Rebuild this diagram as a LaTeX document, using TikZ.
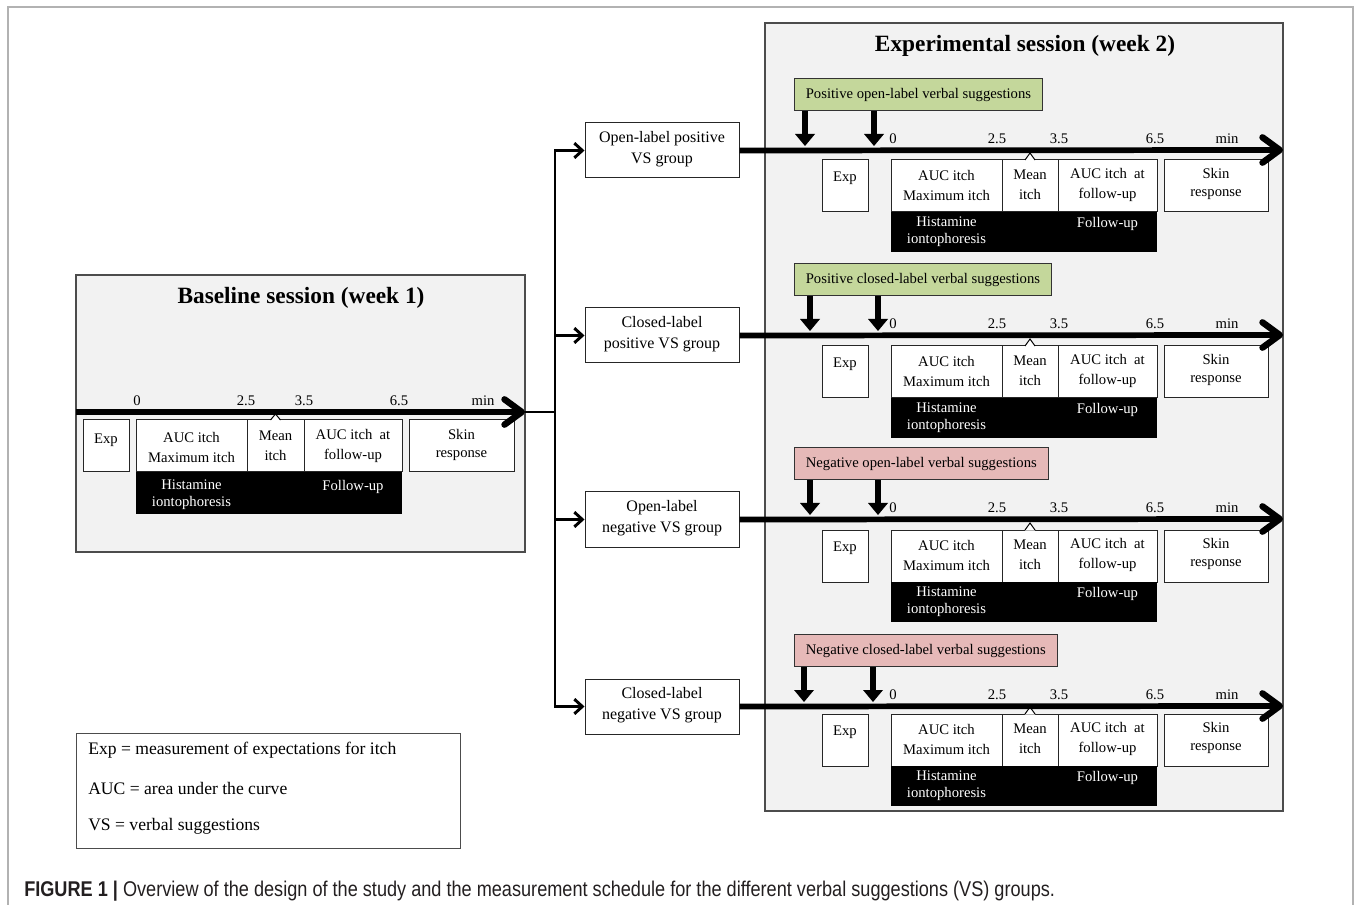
\documentclass[tikz,border=0pt]{standalone}
\usepackage{fontspec}
\setmainfont{Liberation Serif}
\newfontfamily\capfont{Liberation Sans}
\usetikzlibrary{arrows.meta,fit}
\definecolor{lgreen}{HTML}{C4D79B}
\definecolor{lpink}{HTML}{E6B9B8}
\definecolor{panelgray}{HTML}{F2F2F2}
\definecolor{capgray}{HTML}{231F20}
\newcommand\txtsm{\fontsize{11}{15}\selectfont}
\newcommand\txtsk{\fontsize{11}{13.5}\selectfont}
\newcommand\txtbk{\fontsize{11}{12.75}\selectfont}
\newcommand\txtgrp{\fontsize{12}{15.75}\selectfont}
\newcommand\txtleg{\fontsize{13.2}{16}\selectfont}
\newcommand\txttitle{\fontsize{17.5}{20}\selectfont\bfseries}
\begin{document}
\begin{tikzpicture}[x=0.75pt,y=-0.75pt,
 panel/.style={draw=black!70,fill=panelgray,line width=0.8pt,inner sep=0pt},
 wbox/.style={draw=black!85,fill=white,line width=0.75pt,inner sep=0pt},
 blk/.style={fill=black,inner sep=0pt},
 txt/.style={font=\txtsm,align=center,inner sep=0pt},
 sktxt/.style={font=\txtsk,align=center,inner sep=0pt},
 wtxt/.style={text=white,font=\txtbk,align=center,inner sep=0pt,anchor=north},
 tick/.style={font=\txtsm,anchor=base,inner sep=0pt},
 grp/.style={draw=black!85,fill=white,line width=0.75pt,inner sep=0pt},
 grptxt/.style={font=\txtgrp,align=center,inner sep=0pt},
 lab/.style={draw=black!80,line width=0.75pt,inner xsep=8.5pt,inner ysep=0pt,minimum height=24pt,font=\txtsm,anchor=north west},
 timeline/.style={line width=4.3pt,-{Straight Barb[round,length=13pt,width=19pt,line width=4.8pt]}},
 down/.style={line width=5pt,-{Triangle[length=9pt,width=15pt,line width=0pt]}},
 branch/.style={line width=2.2pt,-{Straight Barb[length=6pt,width=11pt]}},
 busline/.style={line width=2.2pt},
 caret/.style={line width=0.75pt}]
\useasboundingbox (0,0) rectangle (1357,905);
% outer frame
\draw[gray!60,line width=1.2pt] (8,906) -- (8,7) -- (1353,7) -- (1353,906);

% ---------- Baseline panel ----------
\node[panel,fit={(76,275)(525,552)}] (bpanel) {};
\node[font=\txttitle] (btitle) at (301,298) {Baseline session (week 1)};
\node[wbox,fit={(83,420)(129,472)}] (bexp) {};
\node[wbox,fit={(136,420)(247,472)}] (bauc) {};
\node[wbox,fit={(247,420)(304,472)}] (bmean) {};
\node[wbox,fit={(304,420)(402,472)}] (baucfu) {};
\node[wbox,fit={(409,420)(514,472)}] (bskin) {};
\node[blk,fit={(136,472)(402,514)}] (bblk) {};
\node[txt] (bexpt) at (106,440) {Exp};
\node[txt] (bauct) at (191.5,447) {AUC itch\\Maximum itch};
\node[txt] (bmeant) at (275.5,445.5) {Mean\\itch};
\node[txt] (baucfut) at (353,445.5) {AUC itch~ at\\follow-up};
\node[sktxt] (bskint) at (461.5,444.5) {Skin\\response};
\node[wtxt] (bhist) at (191.5,480) {Histamine\\iontophoresis};
\node[wtxt] (bfu) at (353,480) {Follow-up};
\fill[white] (270.5,420.6) -- (275.5,414) -- (280.5,420.6) -- cycle;
\draw[caret] (270.5,420) -- (275.5,414) -- (280.5,420);
\coordinate (bstart) at (76,412);
\coordinate (bend) at (525,412);
\coordinate (bus) at (555,412);
\draw[timeline] (bstart) -- (bend);
\draw[busline] (bend) -- (bus);
\node[tick] (b0) at (137,405.5) {0};
\node[tick] (b25) at (246,405.5) {2.5};
\node[tick] (b35) at (304,405.5) {3.5};
\node[tick] (b65) at (399,405.5) {6.5};
\node[tick] (bmin) at (483,405.5) {min};

% ---------- Experimental panel ----------
\node[panel,fit={(765,23)(1283,811)}] (epanel) {};
\node[font=\txttitle] (etitle) at (1025,46) {Experimental session (week 2)};

\foreach \i/\T/\B/\L/\C/\ax/\bx/\G in {
 1/150/160/{Positive open-label verbal suggestions}/lgreen/805/874/{Open-label positive\\VS group},
 2/335/346/{Positive closed-label verbal suggestions}/lgreen/810/878/{Closed-label\\positive VS group},
 3/519/530/{Negative open-label verbal suggestions}/lpink/810/878/{Open-label\\negative VS group},
 4/706/714/{Negative closed-label verbal suggestions}/lpink/804/873/{Closed-label\\negative VS group}}{
  \node[grp,fit={(585,\T-27)(739,\T+28)}] (grp\i) {};
  \node[grptxt] (grpt\i) at (662,\T-1) {\G};
  \node[lab,fill=\C] (lbl\i) at (794,\T-72) {\L};
  \node[wbox,fit={(822,\B)(868,\B+52)}] (exp\i) {};
  \node[wbox,fit={(891,\B)(1002,\B+52)}] (auc\i) {};
  \node[wbox,fit={(1002,\B)(1058,\B+52)}] (mean\i) {};
  \node[wbox,fit={(1058,\B)(1157,\B+52)}] (aucfu\i) {};
  \node[wbox,fit={(1164,\B)(1268,\B+52)}] (skin\i) {};
  \node[blk,fit={(891,\B+52)(1157,\B+92)}] (blk\i) {};
  \node[txt] (expt\i) at (845,\B+18) {Exp};
  \node[txt] (auct\i) at (946.5,\B+25) {AUC itch\\Maximum itch};
  \node[txt] (meant\i) at (1030,\B+25) {Mean\\itch};
  \node[txt] (aucfut\i) at (1107.5,\B+25) {AUC itch~ at\\follow-up};
  \node[sktxt] (skint\i) at (1216,\B+24) {Skin\\response};
  \node[wtxt] (hist\i) at (946.5,\B+57) {Histamine\\iontophoresis};
  \node[wtxt] (fu\i) at (1107.5,\B+57) {Follow-up};
  \fill[white] (1025,\B+0.6) -- (1030,\B-7) -- (1035,\B+0.6) -- cycle;
  \draw[caret] (1025,\B) -- (1030,\B-7) -- (1035,\B);
  \coordinate (end\i) at (1283,\T);
  \draw[timeline] (grp\i.east) -- (end\i);
  \draw[branch] (bus) |- (grp\i.west);
  \coordinate (da\i) at (\ax,\T-4);
  \coordinate (db\i) at (\bx,\T-4);
  \draw[down] (lbl\i.south -| da\i) -- (da\i);
  \draw[down] (lbl\i.south -| db\i) -- (db\i);
  \node[tick] (t0\i) at (893,\T-6.5) {0};
  \node[tick] (t25\i) at (997,\T-6.5) {2.5};
  \node[tick] (t35\i) at (1059,\T-6.5) {3.5};
  \node[tick] (t65\i) at (1155,\T-6.5) {6.5};
  \node[tick] (tmin\i) at (1227,\T-6.5) {min};
}

% ---------- Legend ----------
\node[draw=black!70,line width=0.75pt,fit={(76,733)(460,848)},inner sep=0pt] (legend) {};
\node[font=\txtleg,anchor=west,inner sep=0pt] (leg1) at (88,750) {Exp = measurement of expectations for itch};
\node[font=\txtleg,anchor=west,inner sep=0pt] (leg2) at (88,788) {AUC = area under the curve};
\node[font=\txtleg,anchor=west,inner sep=0pt] (leg3) at (88,826) {VS = verbal suggestions};

% ---------- Caption ----------
\node[anchor=base west,inner sep=0pt,text=capgray] (cap) at (24,896)
 {\scalebox{0.85}[1]{\capfont\fontsize{16}{18}\selectfont\textbf{FIGURE 1 |} Overview of the design of the study and the measurement schedule for the different verbal suggestions (VS) groups.}};
\end{tikzpicture}
\end{document}
